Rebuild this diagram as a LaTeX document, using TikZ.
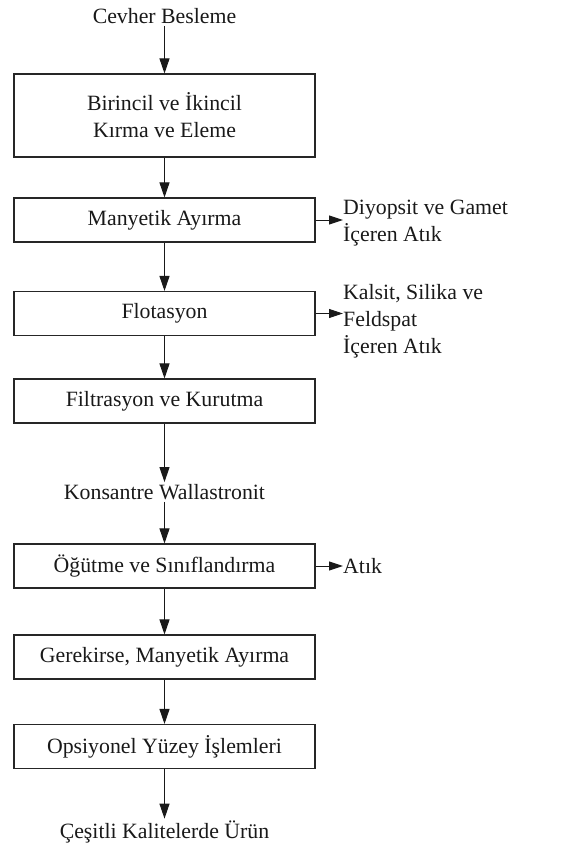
\documentclass[tikz,border=0pt]{standalone}
\usepackage{fontspec}
\setmainfont{Liberation Serif}
\usetikzlibrary{arrows.meta}
\begin{document}
\begin{tikzpicture}[x=1pt,y=-1pt,
  every node/.style={font=\fontsize{21.8}{27}\selectfont, text=black!90},
  proc/.style={draw=black!85, line width=1.1pt, minimum width=301pt, minimum height=44pt, inner sep=2pt, align=center},
  lbl/.style={inner sep=2pt, align=center},
  side/.style={inner sep=0pt, align=left, anchor=west},
  flow/.style={draw=black!90, line width=1pt, -{Triangle[length=15pt,width=10pt]}},
  sflow/.style={draw=black!90, line width=1pt, -{Triangle[length=14pt,width=9pt]}}]
\useasboundingbox (0,0) rectangle (572,847);
\node[lbl] (top) at (164.5,16) {Cevher Besleme};
\node[proc, minimum height=83pt] (b1) at (164.5,115.5) {Birincil ve İkincil\\Kırma ve Eleme};
\node[proc] (b2) at (164.5,220) {Manyetik Ayırma};
\node[proc] (b3) at (164.5,313.5) {Flotasyon};
\node[proc] (b4) at (164.5,401) {Filtrasyon ve Kurutma};
\node[lbl] (kon) at (164.5,492) {Konsantre Wallastronit};
\node[proc] (b5) at (164.5,566) {Öğütme ve Sınıflandırma};
\node[proc] (b6) at (164.5,657) {Gerekirse, Manyetik Ayırma};
\node[proc] (b7) at (164.5,746.5) {Opsiyonel Yüzey İşlemleri};
\node[lbl] (end) at (164.5,832) {Çeşitli Kalitelerde Ürün};
\node[side] (s1) at (343,223) {Diyopsit ve Gamet\\İçeren Atık};
\node[side] (s2) at (343,321) {Kalsit, Silika ve\\Feldspat\\İçeren Atık};
\node[side] (s3) at (343,566) {Atık};
\draw[flow] (top.south) -- (b1.north);
\draw[flow] (b1.south) -- (b2.north);
\draw[flow] (b2.south) -- (b3.north);
\draw[flow] (b3.south) -- (b4.north);
\draw[flow] (b4.south) -- (kon.north);
\draw[flow] (kon.south) -- (b5.north);
\draw[flow] (b5.south) -- (b6.north);
\draw[flow] (b6.south) -- (b7.north);
\draw[flow] (b7.south) -- (end.north);
\draw[sflow] (b2.east) -- (b2.east -| s1.west);
\draw[sflow] (b3.east) -- (b3.east -| s2.west);
\draw[sflow] (b5.east) -- (b5.east -| s3.west);
\end{tikzpicture}
\end{document}
